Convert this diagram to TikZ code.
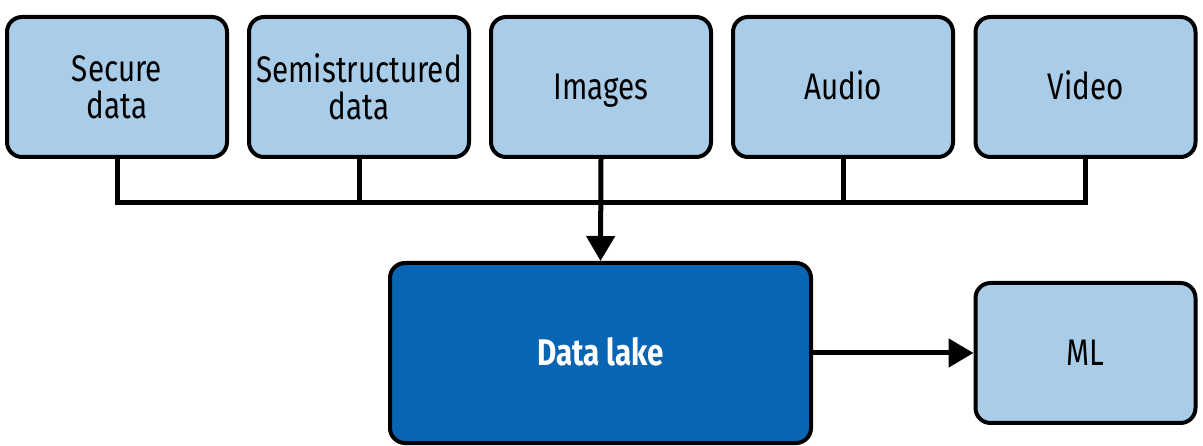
\documentclass[tikz,border=0pt]{standalone}
\usepackage{fontspec}
\setmainfont{Fira Sans}[FakeStretch=0.8]
\usetikzlibrary{arrows.meta}
\definecolor{lightbox}{HTML}{A9CDE8}
\definecolor{darkbox}{HTML}{0765B3}
\tikzset{
  src/.style={draw=black, line width=4pt, fill=lightbox, rounded corners=15pt,
    minimum width=220pt, minimum height=140pt, inner sep=0pt, align=center,
    font=\fontsize{37}{37}\selectfont, text=black},
  oneline/.style={text height=25pt, text depth=0pt},
  lakebox/.style={draw=black, line width=4pt, fill=darkbox, rounded corners=15pt,
    minimum width=421pt, minimum height=180pt, inner sep=0pt, align=center,
    font=\fontsize{37}{37}\selectfont\bfseries, text=white},
  conn/.style={line width=5pt, line join=miter},
  arr/.style={conn, -{Triangle[width=28pt,length=25pt]}}
}
\begin{document}
\begin{tikzpicture}[x=1pt,y=1pt]
\useasboundingbox (0,0) rectangle (1203,-446);
\node[src] (s1) at (117,-87) {Secure\\data};
\node[src] (s2) at (359,-87) {Semistructured\\data};
\node[src, oneline] (s3) at (601,-87) {Images};
\node[src, oneline] (s4) at (843,-87) {Audio};
\node[src, oneline] (s5) at (1085.5,-87) {Video};
\node[lakebox, oneline] (lake) at (600.5,-353) {Data lake};
\node[src, oneline] (ml) at (1085.5,-353) {ML};
\coordinate (bus) at (601,-203);
\draw[conn] (s1.south) -- (s1.south |- bus) -- (s5.south |- bus) -- (s5.south);
\draw[conn] (s2.south) -- (s2.south |- bus);
\draw[conn] (s4.south) -- (s4.south |- bus);
\draw[arr] (s3.south) -- (lake.north);
\draw[arr] (lake.east) -- (ml.west);
\end{tikzpicture}
\end{document}
